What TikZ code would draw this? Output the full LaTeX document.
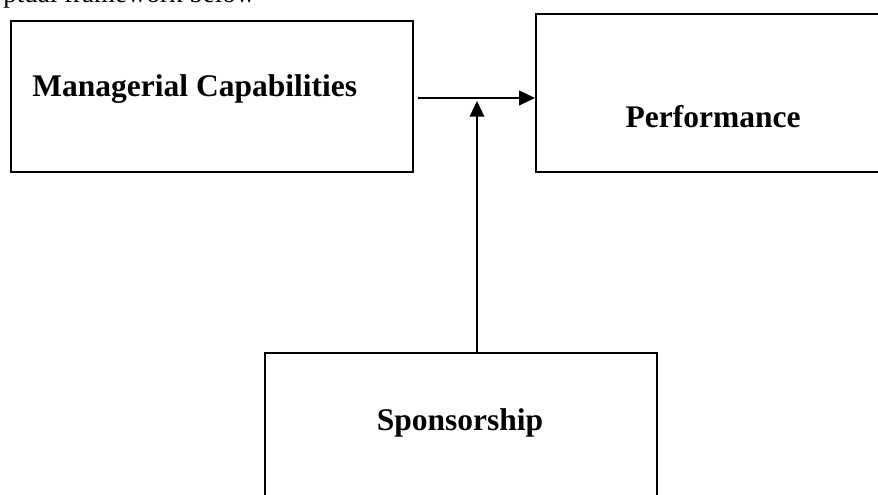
\documentclass[tikz,border=0pt]{standalone}
\usepackage{fontspec}
\setmainfont{Liberation Serif}
\usetikzlibrary{arrows.meta,fit}

\begin{document}
\begin{tikzpicture}[x=0.4444pt,y=-0.4444pt,
  box/.style={draw,line width=0.9pt,inner sep=0pt},
  lbl/.style={inner sep=0pt,font=\fontsize{14}{17}\selectfont\bfseries},
  arr/.style={line width=0.7pt,-{Triangle[length=7pt,width=6.5pt]}}]
  \useasboundingbox (0,0) rectangle (878,495);
  \clip (0,0) rectangle (878,495);

  % text above the figure
  \node[anchor=base west,inner sep=0pt,font=\fontsize{12}{14}\selectfont] (intro) at (3,3) {ptual framework below};

  % boxes
  \node[box,fit={(11,21) (413,172)}] (mgr) {};
  \node[box,fit={(536,14) (890,172)}] (perf) {};
  \node[box,fit={(265,353) (657,530)}] (spon) {};

  \node[lbl,anchor=base west] (mgrtxt) at (32,97) {Managerial Capabilities};
  \node[lbl,anchor=base] (perftxt) at (713,128) {Performance};
  \node[lbl,anchor=base] (spontxt) at (460,431) {Sponsorship};

  % arrows
  \coordinate (mgrout) at (418,98);
  \coordinate (jn) at (477,101);
  \draw[arr] (mgrout) -- (mgrout -| perf.west);
  \draw[arr] (jn |- spon.north) -- (jn);
\end{tikzpicture}
\end{document}
